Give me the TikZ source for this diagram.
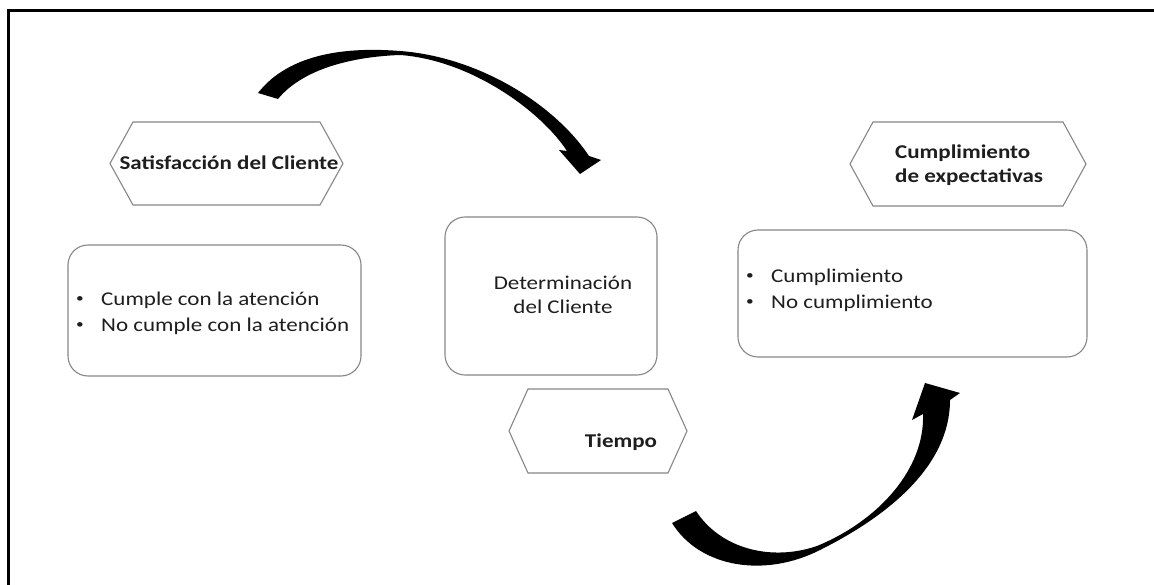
\documentclass[tikz,border=0pt]{standalone}
\usepackage{fontspec}
\setmainfont{Carlito}[FakeStretch=1.18]
\definecolor{edge}{RGB}{135,135,135}
\definecolor{ink}{RGB}{30,30,30}
% hexagon outline around a (text-free) node: #1 node name, #2 depth of the points
\newcommand\hexframe[2]{%
  \draw[hexline] (#1.west) -- ([xshift=#2]#1.north west) -- ([xshift=-#2]#1.north east)
    -- (#1.east) -- ([xshift=-#2]#1.south east) -- ([xshift=#2]#1.south west) -- cycle;}
% small list bullet followed by the item's indent
\newcommand\itembullet{\makebox[26pt][l]{\hspace{1pt}\raisebox{2.5pt}{\fontsize{13}{13}\selectfont•}}}
\begin{document}
\begin{tikzpicture}[x=1pt,y=-1pt,
  hexline/.style={draw=edge,line width=1.1pt,line join=miter},
  hexslot/.style={inner sep=0pt,outer sep=0pt},
  roundbox/.style={draw=edge,line width=1.1pt,rounded corners=20pt,inner sep=0pt},
  label/.style={text=ink,font=\fontsize{19.5}{24}\selectfont,inner sep=0pt},
  title/.style={label,font=\fontsize{19.5}{24}\selectfont\bfseries},
  bulletlist/.style={label,align=left,font=\fontsize{19.5}{26}\selectfont},
  bigarrow/.style={fill=black,draw=none}]
\useasboundingbox (0,0) rectangle (1154,585);
\fill[white] (0,0) rectangle (1154,585);

% frame
\draw[line width=3pt,line cap=butt] (8,586) -- (8,11) -- (1154,11);

% hexagonal headings
\node[hexslot,minimum width=233pt,minimum height=83pt] (sathex) at (226.5,163.5) {};
\hexframe{sathex}{23pt}
\node[title] (sattxt) at (229,163) {Satisfacción del Cliente};

\node[hexslot,minimum width=236pt,minimum height=84pt] (cumhex) at (968,164) {};
\hexframe{cumhex}{23pt}
\node[title,align=left,anchor=west] (cumtxt) at (895,165) {Cumplimiento\\de expectativas};

\node[hexslot,minimum width=178pt,minimum height=84pt] (tiehex) at (598,431) {};
\hexframe{tiehex}{19pt}
\node[title] (tietxt) at (621,442) {Tiempo};

% rounded boxes
\node[roundbox,minimum width=293pt,minimum height=131pt] (leftbox) at (214.5,310.5) {};
\node[bulletlist,anchor=west] (lefttxt) at (75,313)
  {\itembullet Cumple con la atención\\\itembullet No cumple con la atención};

\node[roundbox,minimum width=212pt,minimum height=158pt] (centerbox) at (551,296) {};
\node[label,align=center] (centertxt) at (563,295) {Determinación\\del Cliente};

\node[roundbox,minimum width=349pt,minimum height=127pt] (rightbox) at (912.5,293.5) {};
\node[bulletlist,anchor=west] (righttxt) at (745,290)
  {\itembullet Cumplimiento\\\itembullet No cumplimiento};

% curved arrow over the top
\fill[bigarrow] (258,93) .. controls (290,52) and (350,47) .. (400,51)
  .. controls (480,57) and (555,105) .. (589,156)
  -- (601,160) -- (580,174) -- (559,150) -- (567,151)
  .. controls (540,110) and (470,60) .. (400,55)
  .. controls (345,57) and (300,72) .. (278,99) -- cycle;

% curved arrow at the bottom
\fill[bigarrow] (672,523) .. controls (700,568) and (765,578) .. (820,550)
  .. controls (890,515) and (950,465) .. (950,400)
  -- (960,393) -- (925,383) -- (912,420) -- (923,414)
  .. controls (925,468) and (880,520) .. (817,546)
  .. controls (770,562) and (720,548) .. (696,511) -- cycle;
\end{tikzpicture}
\end{document}
